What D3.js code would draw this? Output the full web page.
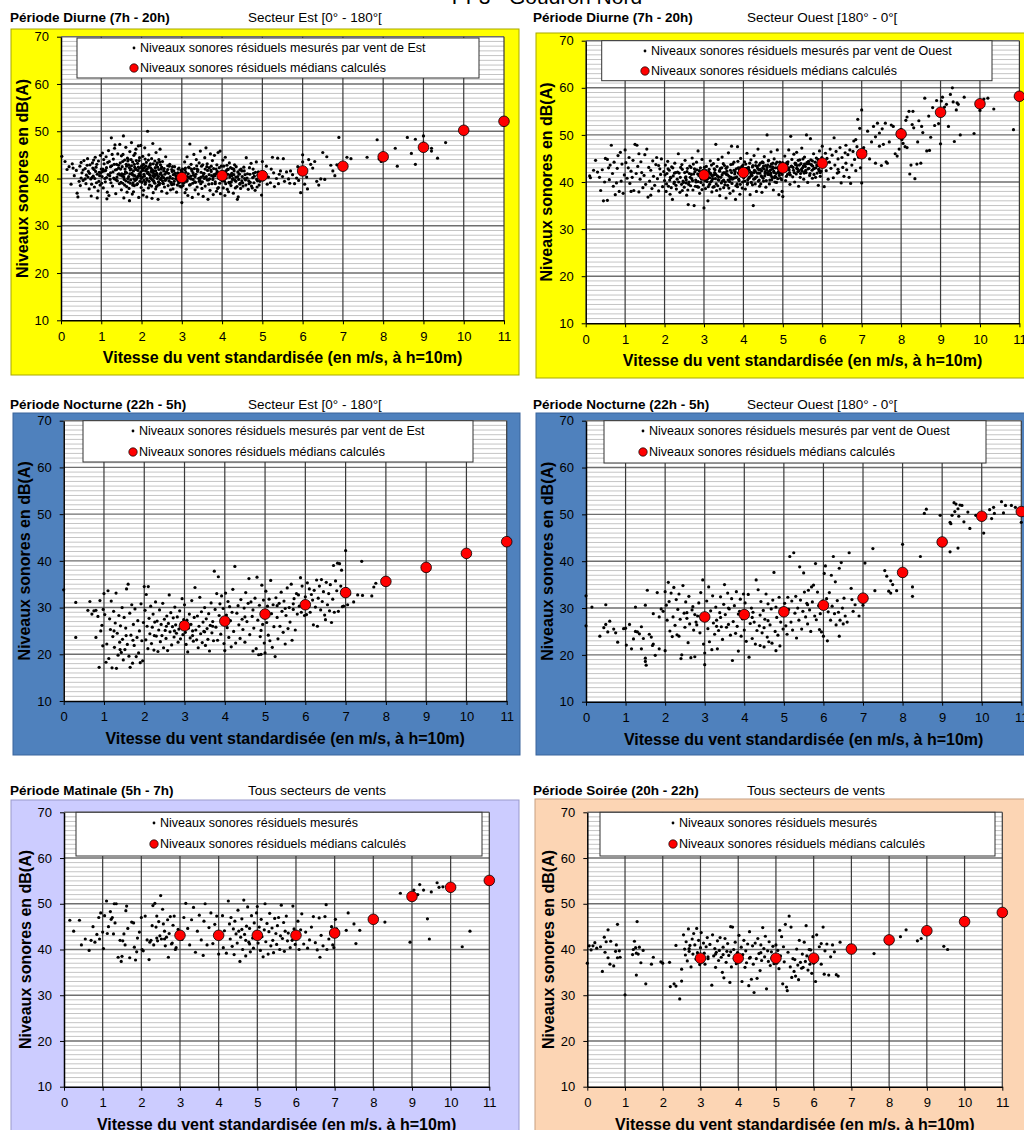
<!DOCTYPE html>
<html>
<head>
<meta charset="utf-8">
<script src="https://cdn.jsdelivr.net/npm/d3@7"></script>
<style>
body{margin:0;background:#fff;}
svg{display:block;font-family:"Liberation Sans",Arial,sans-serif;}
</style>
</head>
<body>
<svg id="chart" width="1024" height="1130"></svg>
<script>
var xTicks = [0,1,2,3,4,5,6,7,8,9,10,11];
var yTicks = [10,20,30,40,50,60,70];
var medianSpeeds = [3,4,5,6,7,8,9,10,11];

// medians
var medDiurneEst    = [40.2,40.6,40.6,41.6,42.6,44.6,46.6,50.2,52.1];
var medDiurneOuest  = [41.5,42.0,43.0,44.0,46.0,50.2,54.8,56.6,58.2];
var medNuitEst      = [26.1,27.1,28.6,30.6,33.2,35.6,38.6,41.6,44.1];
var medNuitOuest    = [28.1,28.6,29.2,30.6,32.1,37.6,44.1,49.6,50.6];
var medMatin        = [43.1,43.1,43.1,43.1,43.6,46.6,51.6,53.6,55.1];
var medSoir         = [38.1,38.1,38.1,38.1,40.1,42.1,44.1,46.1,48.1];

// measured points "speed level, speed level, ..."
var ptsDiurneEst = "0.02 44.7, 0.1 43.6, 0.15 41.9, 0.2 42.5, 0.25 38.8, 0.28 43.1, 0.3 42.2, 0.33 40.6, 0.38 41.7, 0.4 36.9, 0.42 36.1, 0.45 39.4, 0.47 42.6, 0.5 40.1, 0.5 43.4, 0.48 38.5," +
 "0.52 41.2, 0.55 39.6, 0.57 43.8, 0.6 42.1, 0.62 38.9, 0.63 40.7, 0.66 44.2, 0.68 41.5, 0.7 37.8, 0.72 42.9, 0.74 39.9, 0.75 36.3, 0.78 43.3, 0.8 40.5, 0.82 41.9, 0.83 38.2, 0.85 44.5, 0.87 42.4, 0.88 39.1, 0.9 40.9, 0.92 37.4, 0.93 43.7, 0.95 41.3, 0.97 38.6, 0.98 44.9, 1.0 42.0, 0.65 42.8, 0.77 40.2, 0.9 35.9, 0.81 43.9," +
 "1.02 40.4, 1.03 45.4, 1.05 38.0, 1.07 43.1, 1.08 41.6, 1.1 39.3, 1.12 44.6, 1.13 42.3, 1.15 37.1, 1.17 40.8, 1.18 45.9, 1.2 43.6, 1.22 39.8, 1.23 41.2, 1.25 48.6, 1.26 42.7, 1.28 38.4, 1.3 44.1, 1.31 40.1, 1.33 46.4, 1.35 41.8, 1.36 36.8, 1.38 43.0, 1.4 39.5, 1.41 45.2, 1.43 42.2, 1.45 38.9, 1.46 47.2, 1.48 40.7, 1.5 44.8, 1.5 37.6, 1.14 35.7, 1.27 45.1, 1.34 47.1, 1.44 41.0, 1.06 44.0, 1.19 36.4, 1.39 40.3," +
 "1.52 42.5, 1.53 39.0, 1.55 49.0, 1.56 35.9, 1.58 43.9, 1.6 41.4, 1.61 46.6, 1.63 38.3, 1.65 44.3, 1.66 40.0, 1.68 42.9, 1.7 35.3, 1.71 45.7, 1.73 39.7, 1.75 47.6, 1.76 41.1, 1.78 43.5, 1.8 37.2, 1.81 44.9, 1.83 40.6, 1.85 42.1, 1.86 46.2, 1.88 38.7, 1.9 43.2, 1.91 41.7, 1.93 36.0, 1.95 44.4, 1.96 39.4, 1.98 47.0, 2.0 42.6, 1.62 43.0, 1.69 37.9, 1.74 42.0, 1.79 39.1, 1.84 45.3, 1.89 40.2, 1.94 41.0, 1.99 38.1, 1.57 40.9, 1.67 44.0, 1.77 36.7, 1.87 43.8, 1.97 40.5, 1.54 45.1, 1.64 37.1, 1.72 41.8, 1.82 38.5, 1.92 46.9," +
 "2.02 40.3, 2.03 44.7, 2.05 37.5, 2.07 42.3, 2.08 46.5, 2.1 39.2, 2.12 43.4, 2.13 36.1, 2.15 50.0, 2.16 41.3, 2.18 45.0, 2.2 38.6, 2.21 42.8, 2.23 40.0, 2.25 44.2, 2.26 35.8, 2.28 47.4, 2.3 41.6, 2.31 39.3, 2.33 43.7, 2.35 37.8, 2.36 45.5, 2.38 40.8, 2.4 42.4, 2.41 35.6, 2.43 44.0, 2.45 39.0, 2.46 46.2, 2.48 41.2, 2.5 37.3, 2.06 39.6, 2.11 41.8, 2.17 38.0, 2.22 43.1, 2.27 39.7, 2.32 41.0, 2.37 38.3, 2.42 40.4, 2.47 42.9, 2.09 44.1, 2.19 40.9, 2.29 37.0, 2.39 43.3, 2.49 40.1, 2.04 36.5, 2.14 42.0, 2.24 41.5, 2.34 40.6, 2.44 38.7," +
 "2.52 43.6, 2.55 40.2, 2.57 38.2, 2.6 44.6, 2.62 41.4, 2.63 36.9, 2.65 42.7, 2.68 39.5, 2.7 43.0, 2.72 37.6, 2.75 41.9, 2.77 40.0, 2.8 38.8, 2.82 42.5, 2.85 39.9, 2.87 37.1, 2.9 41.2, 2.92 39.1, 2.95 38.4, 2.97 40.7, 3.0 34.9, 2.58 40.9, 2.67 41.1, 2.73 39.2, 2.83 41.0, 2.93 42.2, 2.53 39.0, 2.78 37.8, 2.88 40.4, 2.98 41.7," +
 "3.02 42.0, 3.03 38.5, 3.05 40.6, 3.07 43.5, 3.08 37.0, 3.1 41.3, 3.12 39.4, 3.13 44.6, 3.15 36.4, 3.17 42.4, 3.18 40.1, 3.2 47.3, 3.21 38.7, 3.23 43.0, 3.25 41.6, 3.26 36.0, 3.28 39.8, 3.3 45.1, 3.31 42.1, 3.33 37.6, 3.35 40.9, 3.36 44.0, 3.38 38.2, 3.4 41.8, 3.41 36.7, 3.43 43.3, 3.45 39.6, 3.46 45.8, 3.48 40.3, 3.5 37.9, 3.06 39.2, 3.16 41.0, 3.27 39.0, 3.37 42.7, 3.47 38.9, 3.11 37.7, 3.22 40.5, 3.32 39.3, 3.42 40.0," +
 "3.52 42.9, 3.53 36.2, 3.55 41.1, 3.57 44.4, 3.58 38.4, 3.6 46.5, 3.61 40.4, 3.63 43.1, 3.65 35.6, 3.66 39.7, 3.68 42.3, 3.7 37.5, 3.71 45.2, 3.73 41.5, 3.75 38.9, 3.76 43.8, 3.78 36.6, 3.8 40.8, 3.81 44.9, 3.83 39.3, 3.85 42.0, 3.86 37.3, 3.88 41.2, 3.9 45.5, 3.91 38.1, 3.93 40.2, 3.95 45.8, 3.96 36.8, 3.98 42.6, 4.0 39.5, 3.56 40.0, 3.64 41.7, 3.74 40.6, 3.84 41.0, 3.94 39.0, 3.69 39.9, 3.79 42.1, 3.89 37.9," +
 "4.02 43.9, 4.03 38.0, 4.05 41.4, 4.07 36.4, 4.08 44.5, 4.1 40.1, 4.12 42.8, 4.13 37.7, 4.15 41.9, 4.17 39.2, 4.18 43.3, 4.2 40.7, 4.22 38.5, 4.25 42.1, 4.27 40.0, 4.28 36.9, 4.3 41.6, 4.32 39.6, 4.35 42.5, 4.37 38.3, 4.38 35.6, 4.4 36.1, 4.42 41.0, 4.45 39.0, 4.47 42.0, 4.5 40.4, 4.14 40.9, 4.24 41.1, 4.34 40.3, 4.44 38.8, 4.06 39.4, 4.16 37.2, 4.26 39.8," +
 "4.52 38.4, 4.55 41.6, 4.58 39.7, 4.6 44.4, 4.62 40.1, 4.65 37.7, 4.68 42.3, 4.7 39.2, 4.72 43.2, 4.75 38.0, 4.78 41.1, 4.8 40.5, 4.82 37.5, 4.85 43.5, 4.88 39.5, 4.9 41.4, 4.92 38.6, 4.95 40.8, 4.98 36.5, 5.0 43.6, 4.57 40.8, 4.67 38.9, 4.77 42.0, 4.87 38.2," +
 "5.02 39.7, 5.05 41.3, 5.1 42.6, 5.12 38.8, 5.15 40.3, 5.2 39.1, 5.25 44.5, 5.28 41.2, 5.3 38.3, 5.35 40.0, 5.38 44.3, 5.4 38.9, 5.45 41.6, 5.5 40.4, 5.52 44.2, 5.55 39.4, 5.6 41.4, 5.65 39.9, 5.7 41.6, 5.75 40.8, 5.8 38.9, 5.85 40.1, 5.9 39.6, 5.95 37.0, 6.0 43.5, 6.0 45.0, 5.22 42.0, 5.42 40.9, 5.68 39.0, 5.88 42.5," +
 "6.05 38.8, 6.1 40.3, 6.15 44.0, 6.2 43.0, 6.3 43.6, 6.35 39.4, 6.4 38.6, 6.45 39.9, 6.5 45.5, 6.55 39.8, 6.6 44.6, 6.7 42.8, 6.75 41.6, 6.8 40.6, 6.85 42.9, 6.9 48.7, 6.95 42.9, 7.1 44.5, 7.2 44.2, 7.6 44.5, 7.85 48.2, 7.9 44.1, 7.95 43.6, 8.3 46.4, 8.35 42.6, 8.6 48.7, 8.7 45.3, 8.8 48.3, 8.8 43.0, 9.0 49.0, 9.0 47.5, 9.2 46.4, 9.2 45.8, 9.35 44.3, 9.55 47.6, 6.25 42.2, 6.12 37.8," +
 "0.55 41.8, 0.6 39.9, 0.67 40.3, 0.71 41.1, 0.76 38.8, 0.79 42.2, 0.84 40.0, 0.86 41.5, 0.89 43.0, 0.94 39.4, 0.96 40.6, 0.99 41.2, 1.01 39.0, 1.04 42.0, 1.09 40.0, 1.11 41.7, 1.16 43.4, 1.21 40.6, 1.24 39.1, 1.29 41.4, 1.32 43.0, 1.37 39.7, 1.42 40.9, 1.47 43.3, 1.49 39.2, 1.51 41.0, 1.53 43.6, 1.56 40.3, 1.59 42.0, 1.61 39.5, 1.63 41.2, 1.66 43.7, 1.68 40.4, 1.7 42.3, 1.72 39.0, 1.74 44.0, 1.76 40.9, 1.78 38.6, 1.8 41.6, 1.82 43.0, 1.84 39.6, 1.86 41.9, 1.88 40.1, 1.9 38.9, 1.92 42.4, 1.94 43.8, 1.96 40.8, 1.98 41.4," +
 "2.01 39.2, 2.03 41.7, 2.05 43.0, 2.07 40.5, 2.09 38.8, 2.11 42.6, 2.13 40.0, 2.15 41.1, 2.17 43.9, 2.19 39.4, 2.21 40.7, 2.23 42.2, 2.25 38.4, 2.27 41.3, 2.29 43.1, 2.31 40.3, 2.33 39.0, 2.35 41.6, 2.37 42.9, 2.39 40.0, 2.41 38.6, 2.43 41.9, 2.45 43.5, 2.47 39.8, 2.49 42.0, 2.51 40.6, 2.54 38.9, 2.56 42.1, 2.59 39.6, 2.61 41.3, 2.64 40.1, 2.66 38.5, 2.69 42.6, 2.71 40.4, 2.74 39.0, 2.76 41.5, 2.79 40.8, 2.81 39.4, 2.84 41.1, 2.86 40.0, 2.89 38.6, 2.91 42.0, 2.94 40.5, 2.96 39.3, 2.99 38.2," +
 "3.01 41.4, 3.04 39.0, 3.09 42.2, 3.14 40.4, 3.19 38.6, 3.24 42.0, 3.29 40.7, 3.34 39.2, 3.39 41.5, 3.44 40.1, 3.49 42.6, 3.51 39.3, 3.54 41.0, 3.59 40.2, 3.62 42.5, 3.67 38.8, 3.72 41.8, 3.77 39.8, 3.82 40.6, 3.87 42.9, 3.92 40.0, 3.97 41.3, 4.01 40.6, 4.04 42.6, 4.09 38.9, 4.11 41.7, 4.19 40.3, 4.21 42.3, 4.23 39.3, 4.29 40.8, 4.31 42.9, 4.33 38.0, 4.39 41.4, 4.41 39.8, 4.43 40.9, 4.46 37.9, 4.49 41.6, 4.51 39.1, 4.54 42.4, 4.56 40.0, 4.59 38.6, 4.63 41.0, 4.66 39.5, 4.69 40.9, 4.73 38.4, 4.76 40.2, 4.79 39.1, 4.83 41.3, 4.86 39.8, 4.89 40.7, 4.94 39.4," +
 "1.03 41.5, 1.13 40.2, 1.23 42.5, 1.33 39.9, 1.43 42.8, 1.53 40.5, 1.58 38.6, 1.63 42.6, 1.67 39.3, 1.71 41.0, 1.75 42.7, 1.79 40.7, 1.83 42.4, 1.87 39.8, 1.91 40.5, 1.95 42.2, 1.99 40.0, 2.02 42.1, 2.06 40.9, 2.1 41.6, 2.14 39.7, 2.18 42.4, 2.22 40.2, 2.26 41.9, 2.3 39.5, 2.34 42.3, 2.38 41.1, 2.42 39.3, 2.46 40.9, 2.5 42.4, 2.55 41.6, 2.6 39.8, 2.65 41.9, 2.7 40.1, 2.75 38.7, 2.8 41.6, 2.85 40.6, 2.9 39.6, 2.95 41.0," +
 "3.03 40.2, 3.08 41.8, 3.13 39.6, 3.18 42.3, 3.23 39.9, 3.28 41.2, 3.33 40.4, 3.38 42.0, 3.43 39.4, 3.48 41.3, 3.53 40.5, 3.58 42.0, 3.63 39.7, 3.68 40.8, 3.73 42.6, 3.78 40.4, 3.83 38.9, 3.88 41.5, 3.93 42.3, 3.98 40.3, 4.04 39.6, 4.09 41.2, 4.14 42.0, 4.19 39.0, 4.24 40.6, 4.29 42.0, 4.34 39.4, 4.39 40.4, 4.44 41.8, 4.49 39.5, 1.38 41.9, 1.48 42.0, 1.57 39.8, 1.81 39.9, 2.04 42.9, 2.28 40.6, 2.52 39.5, 2.77 42.5, 3.0 41.2";

var ptsDiurneOuest = "0.1 41.3, 0.12 40.9, 0.25 44.6, 0.3 42.1, 0.38 38.2, 0.42 42.6, 0.45 36.0, 0.5 45.0, 0.55 36.1, 0.55 44.8, 0.6 40.5, 0.62 43.6, 0.65 47.8, 0.68 41.8, 0.7 39.1, 0.72 44.2, 0.75 37.3, 0.8 42.9, 0.82 45.6, 0.85 38.0, 0.88 46.3, 0.9 40.2, 0.92 43.8, 0.95 37.6, 0.98 41.5, 0.78 39.8, 0.58 43.0, 0.48 40.0, 0.35 41.0, 0.2 42.5," +
 "1.0 46.8, 1.02 44.1, 1.05 40.8, 1.08 43.0, 1.1 45.2, 1.12 39.7, 1.15 42.3, 1.18 41.0, 1.2 44.6, 1.22 38.2, 1.25 48.0, 1.28 41.8, 1.3 47.8, 1.32 43.3, 1.35 37.9, 1.38 40.6, 1.4 44.3, 1.42 42.0, 1.45 38.8, 1.48 41.4, 1.5 45.8, 1.52 39.5, 1.55 47.0, 1.58 36.8, 1.6 43.1, 1.62 40.2, 1.65 42.5, 1.68 38.6, 1.7 44.5, 1.72 41.2, 1.75 39.3, 1.78 43.7, 1.8 45.2, 1.82 40.7, 1.85 38.1, 1.88 42.8, 1.9 41.6, 1.92 44.9, 1.95 39.0, 1.98 42.2, 1.15 38.0, 1.35 46.0, 1.65 37.2, 1.85 43.5," +
 "2.0 40.3, 2.02 43.6, 2.04 38.0, 2.06 41.8, 2.08 44.4, 2.1 39.1, 2.12 42.5, 2.14 37.4, 2.16 40.9, 2.18 43.2, 2.2 36.3, 2.22 41.3, 2.24 39.7, 2.26 44.0, 2.28 42.0, 2.3 38.5, 2.32 40.6, 2.35 46.0, 2.37 41.9, 2.39 37.8, 2.41 43.1, 2.43 39.5, 2.45 42.7, 2.47 40.2, 2.5 38.9, 2.52 44.6, 2.54 41.1, 2.56 37.2, 2.58 42.9, 2.6 35.2, 2.62 40.0, 2.64 43.4, 2.66 39.2, 2.68 41.6, 2.7 45.1, 2.72 38.3, 2.75 35.0, 2.77 42.2, 2.79 40.4, 2.81 44.2, 2.83 39.0, 2.85 46.6, 2.87 41.4, 2.89 37.6, 2.91 43.0, 2.93 40.8, 2.95 38.4, 2.97 42.4, 3.0 34.5, 2.25 40.0, 2.45 38.2, 2.65 41.0, 2.85 40.1, 2.15 41.0, 2.55 39.8, 2.73 43.8, 2.95 44.8," +
 "3.02 41.0, 3.04 38.6, 3.06 43.3, 3.08 40.1, 3.1 36.0, 3.12 42.2, 3.14 39.5, 3.16 44.5, 3.18 41.6, 3.2 37.9, 3.22 40.7, 3.24 43.9, 3.26 39.0, 3.28 42.6, 3.3 48.0, 3.32 38.2, 3.34 41.3, 3.36 44.8, 3.38 40.4, 3.4 37.1, 3.42 42.9, 3.44 39.8, 3.46 45.3, 3.48 41.9, 3.5 38.8, 3.52 43.5, 3.54 40.0, 3.56 36.6, 3.58 42.3, 3.6 39.3, 3.62 46.2, 3.64 41.2, 3.66 37.6, 3.68 43.7, 3.7 47.6, 3.72 40.6, 3.74 38.1, 3.76 44.2, 3.78 41.7, 3.8 36.3, 3.82 42.8, 3.84 39.6, 3.85 47.5, 3.87 43.0, 3.89 40.3, 3.91 37.4, 3.93 45.0, 3.95 41.5, 3.97 38.7, 3.99 43.6, 3.15 40.9, 3.35 39.2, 3.55 41.8, 3.75 40.8, 3.95 42.1, 3.25 41.5, 3.45 43.0, 3.65 40.1, 3.85 39.0," +
 "4.01 40.9, 4.03 44.3, 4.05 38.5, 4.07 42.4, 4.09 46.1, 4.11 39.8, 4.13 43.1, 4.15 41.0, 4.17 37.3, 4.19 44.7, 4.21 42.0, 4.23 39.4, 4.25 35.0, 4.27 45.6, 4.29 40.7, 4.31 43.5, 4.33 38.0, 4.35 41.9, 4.37 47.0, 4.39 42.6, 4.41 39.1, 4.43 44.0, 4.45 41.3, 4.47 37.8, 4.49 43.0, 4.51 40.2, 4.53 45.4, 4.55 42.2, 4.57 38.9, 4.6 50.0, 4.62 41.6, 4.64 44.6, 4.66 39.6, 4.68 43.3, 4.7 46.4, 4.72 40.5, 4.74 42.8, 4.76 38.3, 4.78 44.9, 4.8 41.2, 4.82 43.8, 4.84 39.9, 4.86 46.8, 4.88 42.1, 4.9 37.3, 4.92 44.2, 4.94 40.8, 4.96 43.4, 4.98 38.0, 5.0 36.9, 4.2 41.6, 4.4 40.4, 4.6 43.1, 4.8 40.0, 4.3 42.3, 4.5 44.1, 4.7 41.9, 4.9 42.6," +
 "5.02 42.7, 5.05 45.5, 5.07 40.3, 5.1 44.1, 5.12 41.6, 5.15 46.8, 5.18 39.5, 5.2 49.7, 5.22 43.4, 5.25 41.1, 5.28 45.9, 5.3 40.0, 5.33 43.9, 5.35 46.3, 5.38 42.2, 5.4 39.1, 5.43 44.7, 5.45 41.8, 5.48 47.2, 5.5 43.0, 5.53 40.6, 5.55 45.3, 5.58 42.5, 5.6 50.0, 5.63 39.9, 5.65 44.4, 5.68 41.4, 5.7 49.2, 5.72 43.7, 5.75 40.8, 5.78 46.0, 5.8 42.9, 5.83 41.0, 5.85 45.1, 5.88 43.5, 5.9 39.3, 5.93 46.6, 5.95 42.0, 5.98 44.3, 6.0 47.6, 5.15 43.0, 5.35 42.9, 5.55 43.8, 5.75 44.5, 5.95 41.2," +
 "6.02 43.9, 6.05 39.0, 6.08 46.1, 6.1 42.4, 6.12 45.0, 6.15 40.6, 6.18 44.2, 6.2 47.0, 6.22 42.9, 6.25 45.7, 6.28 40.9, 6.3 49.4, 6.32 43.6, 6.35 46.5, 6.38 41.9, 6.4 44.9, 6.42 42.1, 6.45 47.3, 6.48 39.8, 6.5 45.2, 6.52 43.1, 6.55 41.2, 6.58 46.2, 6.6 44.0, 6.62 42.6, 6.65 45.8, 6.68 41.0, 6.7 46.8, 6.72 39.7, 6.75 43.6, 6.78 46.5, 6.8 48.7, 6.82 44.8, 6.85 42.4, 6.88 47.5, 6.9 53.3, 6.92 45.3, 6.95 51.4, 6.97 43.0, 7.0 55.3, 7.0 39.8, 6.4 42.7, 6.6 47.8, 6.85 49.0," +
 "7.05 47.3, 7.1 46.5, 7.15 50.8, 7.2 44.9, 7.25 48.5, 7.3 51.8, 7.35 44.0, 7.4 52.5, 7.45 50.4, 7.45 47.6, 7.5 43.5, 7.55 48.0, 7.6 52.5, 7.62 44.3, 7.65 44.0, 7.7 48.5, 7.75 52.1, 7.8 51.8, 7.85 46.0, 7.9 45.5, 7.95 47.0, 8.0 51.2, 8.02 49.0, 8.05 48.2, 8.1 47.5, 8.12 53.1, 8.15 53.8, 8.2 55.0, 8.22 41.7, 8.25 43.6, 8.28 52.2, 8.3 55.0, 8.32 51.5, 8.35 40.7, 8.4 43.8, 8.45 53.0, 8.5 44.0, 8.52 51.8, 8.55 50.5, 8.6 57.8, 8.65 46.6, 8.7 54.0, 8.72 46.7, 8.75 49.5, 8.8 55.8, 8.85 52.0, 8.9 57.3, 8.95 52.4, 9.0 48.1, 9.02 57.2, 9.05 58.0, 9.1 55.9, 9.15 56.5, 9.2 51.8, 9.25 58.6, 9.3 60.0, 9.32 57.0, 9.35 48.6, 9.4 55.3, 9.42 56.8, 9.45 56.5, 9.5 50.0, 9.6 58.0, 9.85 50.3, 10.0 55.2, 10.05 56.8, 10.1 57.6, 10.2 57.8, 10.35 55.5, 10.85 51.1, 8.42 48.5, 7.35 49.6, 7.52 51.3, 8.15 47.3," +
 "2.01 41.5, 2.05 39.6, 2.09 42.8, 2.13 40.4, 2.17 38.8, 2.21 43.0, 2.25 41.9, 2.29 39.3, 2.33 42.1, 2.36 40.0, 2.4 41.0, 2.44 43.7, 2.48 39.9, 2.51 42.0, 2.55 40.5, 2.59 38.3, 2.63 41.8, 2.67 43.1, 2.71 40.3, 2.74 41.7, 2.78 39.1, 2.82 42.6, 2.86 38.9, 2.9 41.5, 2.94 40.6, 2.98 39.4," +
 "3.01 43.1, 3.03 40.3, 3.07 41.8, 3.11 39.0, 3.13 42.7, 3.17 40.0, 3.19 43.6, 3.21 41.3, 3.23 38.9, 3.27 42.0, 3.29 40.7, 3.31 39.6, 3.33 43.3, 3.37 41.1, 3.39 42.4, 3.41 38.5, 3.43 41.0, 3.47 40.2, 3.49 43.9, 3.51 42.0, 3.53 39.4, 3.57 41.6, 3.59 43.2, 3.61 40.4, 3.63 38.7, 3.67 42.5, 3.69 41.0, 3.71 39.7, 3.73 43.8, 3.77 40.9, 3.79 42.2, 3.81 39.2, 3.83 41.1, 3.86 44.4, 3.88 40.6, 3.9 42.6, 3.92 39.5, 3.94 41.7, 3.96 43.3, 3.98 40.0," +
 "4.02 42.2, 4.04 40.2, 4.06 43.8, 4.08 41.5, 4.1 39.5, 4.12 42.9, 4.14 40.8, 4.16 44.0, 4.18 42.0, 4.2 39.9, 4.22 41.4, 4.24 43.5, 4.26 40.6, 4.28 42.5, 4.3 39.6, 4.32 44.2, 4.34 41.1, 4.36 42.9, 4.38 40.2, 4.4 43.6, 4.42 41.9, 4.44 39.6, 4.46 42.4, 4.48 44.3, 4.5 40.8, 4.52 42.8, 4.54 41.3, 4.56 43.5, 4.58 40.3, 4.61 42.0, 4.63 44.5, 4.65 41.6, 4.67 40.4, 4.69 42.6, 4.71 43.8, 4.73 41.0, 4.75 44.0, 4.77 42.3, 4.79 40.9, 4.81 43.0, 4.83 41.8, 4.85 44.2, 4.87 40.7, 4.89 42.9, 4.91 41.4, 4.93 43.6, 4.95 42.0, 4.97 40.5, 4.99 44.1," +
 "5.03 42.3, 5.06 43.8, 5.09 41.2, 5.13 44.3, 5.16 42.6, 5.19 41.5, 5.23 44.8, 5.26 43.1, 5.29 42.0, 5.31 44.0, 5.34 41.7, 5.36 43.5, 5.39 44.6, 5.41 42.4, 5.44 41.0, 5.46 43.9, 5.49 42.3, 5.51 44.9, 5.54 41.9, 5.57 43.3, 5.59 42.0, 5.61 44.1, 5.64 42.8, 5.67 43.9, 5.69 41.8, 5.71 44.7, 5.74 42.5, 5.76 43.4, 5.79 41.6, 5.82 44.2, 5.84 43.0, 5.87 41.9, 5.89 44.8, 5.91 42.7, 5.94 43.7, 5.97 42.3, 5.99 45.2," +
 "2.53 40.9, 2.57 42.2, 2.61 39.5, 2.69 40.7, 2.76 42.8, 2.8 40.0, 2.84 41.7, 2.88 42.4, 2.92 39.9, 2.96 41.9, 3.05 42.4, 3.09 40.7, 3.16 41.9, 3.2 40.3, 3.26 42.8, 3.3 41.6, 3.36 40.5, 3.4 42.3, 3.46 41.5, 3.5 40.4, 3.56 42.9, 3.6 41.5, 3.66 40.6, 3.7 42.0, 3.76 42.5, 3.8 40.9, 3.87 41.9, 3.91 43.0, 3.97 41.5," +
 "4.03 41.2, 4.07 42.9, 4.11 40.5, 4.15 42.5, 4.19 41.3, 4.23 43.2, 4.27 42.0, 4.31 41.0, 4.35 43.3, 4.39 41.9, 4.43 42.7, 4.47 41.1, 4.51 43.4, 4.55 41.8, 4.59 42.6, 4.62 43.6, 4.66 42.3, 4.7 41.4, 4.74 43.2, 4.78 42.0, 4.82 41.1, 4.86 43.0, 4.9 41.9, 4.94 42.8, 4.98 41.6, 5.04 43.2, 5.08 42.4, 5.12 43.8, 5.17 42.0, 5.21 43.3, 5.27 42.5, 5.32 43.7, 5.37 42.8, 5.42 43.6, 5.47 42.7, 5.52 43.4, 5.56 42.1, 5.62 43.9, 5.66 42.9, 5.73 43.6, 5.78 42.8, 5.86 43.6, 5.92 42.4";

var ptsNuitEst = "0.0 33.8, 0.3 31.1, 0.3 23.6, 0.6 29.4, 0.65 31.3, 0.7 28.6, 0.75 29.3, 0.8 29.4, 0.8 23.6, 0.85 28.1, 0.88 17.2, 0.9 31.5, 0.92 25.0, 0.95 26.2, 0.97 21.8, 1.0 33.0, 0.98 29.6," +
 "1.02 28.5, 1.05 18.3, 1.07 22.2, 1.1 33.6, 1.12 19.1, 1.14 27.6, 1.16 25.3, 1.18 31.4, 1.2 17.1, 1.22 23.8, 1.24 29.2, 1.26 21.5, 1.28 26.7, 1.3 33.1, 1.31 17.0, 1.33 24.5, 1.35 19.8, 1.37 28.3, 1.39 22.6, 1.41 26.1, 1.43 20.4, 1.45 30.0, 1.46 23.2, 1.48 18.8, 1.5 27.9, 1.52 21.0, 1.54 25.6, 1.56 34.0, 1.58 22.1, 1.6 35.0, 1.62 19.6, 1.64 28.8, 1.65 17.2, 1.67 24.1, 1.69 30.6, 1.71 18.1, 1.73 26.4, 1.75 21.9, 1.77 29.7, 1.8 19.5, 1.82 23.6, 1.84 27.2, 1.86 20.3, 1.88 25.0, 1.9 18.2, 1.92 30.8, 1.94 22.9, 1.96 18.6, 1.98 26.8, 1.25 25.0, 1.55 24.0, 1.72 23.0, 1.4 21.0," +
 "2.0 34.5, 2.02 29.4, 2.04 23.1, 2.05 32.8, 2.07 26.0, 2.09 21.2, 2.1 34.5, 2.12 27.7, 2.14 24.4, 2.16 30.3, 2.18 22.3, 2.2 25.8, 2.22 28.6, 2.24 20.9, 2.26 26.9, 2.28 31.2, 2.3 23.9, 2.32 27.1, 2.34 20.6, 2.36 25.2, 2.38 29.5, 2.4 22.7, 2.42 26.4, 2.44 24.0, 2.46 30.9, 2.48 21.4, 2.5 27.5, 2.52 25.1, 2.54 23.4, 2.56 28.2, 2.58 20.8, 2.6 26.6, 2.62 32.7, 2.64 24.8, 2.66 28.9, 2.68 22.0, 2.7 25.9, 2.72 27.8, 2.74 23.7, 2.76 30.1, 2.78 26.3, 2.8 24.5, 2.82 28.0, 2.84 22.6, 2.86 25.4, 2.88 29.3, 2.9 23.3, 2.92 26.7, 2.94 31.9, 2.96 24.2, 2.98 27.4, 2.25 24.0, 2.55 26.0, 2.75 25.0," +
 "3.0 30.6, 3.02 24.7, 3.04 22.1, 3.06 27.3, 3.08 20.5, 3.1 25.6, 3.12 28.6, 3.14 23.5, 3.16 26.4, 3.18 31.5, 3.2 24.0, 3.22 22.8, 3.24 27.9, 3.26 34.3, 3.28 25.2, 3.3 23.1, 3.32 28.2, 3.34 21.4, 3.36 26.0, 3.38 32.2, 3.4 24.4, 3.42 29.1, 3.44 22.5, 3.46 26.9, 3.48 24.9, 3.5 30.0, 3.52 21.9, 3.54 27.6, 3.56 25.5, 3.58 23.2, 3.6 28.7, 3.62 20.7, 3.64 26.2, 3.66 31.0, 3.68 24.6, 3.7 27.0, 3.72 22.9, 3.74 37.8, 3.76 29.6, 3.78 25.8, 3.8 33.0, 3.82 23.0, 3.84 36.6, 3.86 28.3, 3.88 30.8, 3.9 24.3, 3.92 32.5, 3.94 26.5, 3.96 29.8, 3.98 22.3, 3.2 25.0, 3.5 24.8, 3.7 26.0," +
 "4.0 20.8, 4.02 33.1, 4.04 28.4, 4.06 25.7, 4.08 31.3, 4.1 23.6, 4.12 30.2, 4.14 27.2, 4.16 21.6, 4.18 29.0, 4.2 33.9, 4.22 24.9, 4.25 38.8, 4.27 22.4, 4.3 28.8, 4.33 30.4, 4.35 26.3, 4.38 23.4, 4.4 31.7, 4.43 27.5, 4.45 25.3, 4.48 29.9, 4.5 22.6, 4.52 33.2, 4.55 27.0, 4.58 30.9, 4.6 36.2, 4.62 24.2, 4.65 31.2, 4.68 28.1, 4.7 20.7, 4.72 25.6, 4.75 32.0, 4.78 21.2, 4.8 36.5, 4.82 27.3, 4.84 19.9, 4.86 30.5, 4.88 23.8, 4.9 20.0, 4.92 34.8, 4.94 26.4, 4.96 31.6, 4.98 22.4, 5.0 29.3, 4.5 28.0, 4.7 29.5, 4.9 25.1," +
 "5.0 20.3, 5.02 33.5, 5.04 26.8, 5.06 30.3, 5.08 24.1, 5.1 31.8, 5.12 22.9, 5.14 35.8, 5.16 28.7, 5.18 21.5, 5.2 30.6, 5.22 25.9, 5.25 19.5, 5.27 32.1, 5.3 27.9, 5.32 23.3, 5.35 30.9, 5.37 26.0, 5.4 33.3, 5.42 29.2, 5.45 24.7, 5.47 31.4, 5.5 22.2, 5.52 28.3, 5.55 34.2, 5.57 25.5, 5.6 30.0, 5.62 26.9, 5.65 35.0, 5.67 23.0, 5.7 29.6, 5.72 31.9, 5.75 25.2, 5.78 33.0, 5.8 28.6, 5.83 32.7, 5.85 30.3, 5.88 36.4, 5.9 29.0, 5.92 34.6, 5.95 31.2, 5.98 28.3, 5.3 30.4, 5.5 29.8, 5.7 30.8," +
 "6.0 32.3, 6.03 28.5, 6.05 35.3, 6.08 30.9, 6.1 34.0, 6.12 29.0, 6.15 32.8, 6.18 31.6, 6.2 26.3, 6.22 33.7, 6.25 30.1, 6.28 35.9, 6.3 26.0, 6.32 32.0, 6.35 34.6, 6.38 29.5, 6.4 36.0, 6.42 31.3, 6.45 33.4, 6.48 28.4, 6.5 27.4, 6.52 35.4, 6.55 30.6, 6.58 33.0, 6.6 29.3, 6.62 34.9, 6.65 26.8, 6.68 31.8, 6.7 39.0, 6.72 29.0, 6.75 35.7, 6.78 33.6, 6.8 39.5, 6.82 29.2, 6.85 39.4, 6.88 34.6, 6.9 38.0, 6.92 30.2, 6.95 30.3, 7.0 42.2, 7.02 34.0, 7.05 30.6, 7.1 32.9, 7.2 31.2, 7.3 32.7, 7.4 39.9, 7.42 32.6, 7.65 32.5, 7.7 34.4, 7.75 35.2";

var ptsNuitOuest = "0.0 32.6, 0.0 26.2, 0.15 30.2, 0.35 24.0, 0.45 25.8, 0.5 26.5, 0.5 30.7, 0.55 24.9, 0.6 27.2, 0.7 25.5, 0.75 24.7, 0.8 22.7, 0.95 25.6, 1.0 25.7, 1.02 22.1, 1.1 26.5, 1.15 21.3, 1.2 23.4, 1.25 30.2, 1.25 25.0, 1.3 24.9, 1.35 24.5, 1.4 21.3, 1.4 26.0, 1.45 23.5, 1.5 19.3, 1.5 18.6, 1.52 17.8, 1.5 30.6, 1.55 33.8, 1.65 23.8, 1.7 22.3, 1.7 28.8, 1.75 19.9, 1.8 33.3, 1.85 21.3, 1.85 28.1, 1.9 29.8, 1.95 29.3, 2.0 20.9, 1.6 24.4, 1.68 22.0," +
 "2.0 33.5, 2.03 30.6, 2.05 27.4, 2.08 35.5, 2.1 31.4, 2.12 25.1, 2.15 33.2, 2.18 23.9, 2.2 28.1, 2.22 34.4, 2.25 26.3, 2.28 31.8, 2.3 24.3, 2.32 29.7, 2.35 33.0, 2.38 27.6, 2.4 19.2, 2.42 20.0, 2.45 34.8, 2.48 28.9, 2.5 25.9, 2.52 31.3, 2.55 29.0, 2.58 22.6, 2.6 32.5, 2.62 26.6, 2.65 19.4, 2.68 29.6, 2.7 30.3, 2.72 25.3, 2.75 19.6, 2.78 27.0, 2.8 26.4, 2.82 28.3, 2.85 31.1, 2.88 24.7, 2.9 33.3, 2.92 27.6, 2.95 36.0, 2.97 22.3, 3.0 17.9, 3.0 20.4, 2.35 24.0, 2.55 27.8, 2.75 28.6," +
 "3.02 27.9, 3.05 31.5, 3.08 25.6, 3.1 34.5, 3.12 22.8, 3.15 29.4, 3.18 21.1, 3.2 32.6, 3.22 26.8, 3.25 24.4, 3.28 30.2, 3.3 27.4, 3.32 21.3, 3.35 25.2, 3.38 29.0, 3.4 32.4, 3.42 26.0, 3.45 23.3, 3.48 30.8, 3.5 35.0, 3.52 28.6, 3.55 25.9, 3.58 33.2, 3.6 26.5, 3.62 29.8, 3.65 24.2, 3.68 32.0, 3.7 18.8, 3.72 27.1, 3.75 30.5, 3.78 24.6, 3.8 33.5, 3.82 26.1, 3.85 20.8, 3.88 29.3, 3.9 31.9, 3.92 24.0, 3.95 27.7, 3.98 33.0, 3.4 28.0, 3.6 30.0, 3.85 28.7, 3.3 26.1," +
 "4.0 25.3, 4.02 31.1, 4.05 22.9, 4.08 28.5, 4.1 32.9, 4.12 19.5, 4.15 26.7, 4.18 30.0, 4.2 23.5, 4.22 29.1, 4.25 27.0, 4.28 22.3, 4.3 36.0, 4.32 25.2, 4.35 33.9, 4.38 26.2, 4.4 22.0, 4.42 31.4, 4.45 24.7, 4.48 29.5, 4.5 21.7, 4.52 27.6, 4.55 33.0, 4.58 23.8, 4.6 30.9, 4.62 22.8, 4.65 26.4, 4.68 29.8, 4.7 22.5, 4.72 31.7, 4.75 37.6, 4.78 25.0, 4.8 20.9, 4.82 28.0, 4.85 24.2, 4.88 32.3, 4.9 21.9, 4.92 27.0, 4.95 29.9, 4.98 25.5, 4.4 28.5, 4.6 27.3, 4.8 30.2, 4.2 28.0, 4.5 25.8," +
 "5.02 31.0, 5.05 26.2, 5.08 24.4, 5.1 32.3, 5.12 29.7, 5.15 41.0, 5.18 27.0, 5.2 31.5, 5.22 25.3, 5.25 41.8, 5.28 28.9, 5.3 32.5, 5.32 23.6, 5.35 30.0, 5.38 27.4, 5.4 38.8, 5.42 31.7, 5.45 25.5, 5.48 29.3, 5.5 37.5, 5.52 33.4, 5.55 28.1, 5.58 31.0, 5.6 26.6, 5.62 33.8, 5.65 29.6, 5.68 25.0, 5.7 34.5, 5.72 31.3, 5.75 34.9, 5.78 28.3, 5.8 39.5, 5.82 27.5, 5.85 33.4, 5.88 30.5, 5.9 25.4, 5.92 28.8, 5.95 24.9, 5.98 31.5, 5.6 30.7," +
 "6.0 24.0, 6.02 37.4, 6.05 39.0, 6.08 32.0, 6.1 23.0, 6.12 29.2, 6.15 33.3, 6.18 27.4, 6.2 37.0, 6.22 30.4, 6.25 41.0, 6.28 28.8, 6.3 35.6, 6.32 26.4, 6.35 31.6, 6.38 29.1, 6.4 38.5, 6.4 24.0, 6.42 27.4, 6.45 39.7, 6.48 30.0, 6.5 26.6, 6.52 32.1, 6.55 28.3, 6.6 27.0, 6.65 41.8, 6.7 34.2, 6.72 31.8, 6.75 29.3, 6.8 30.7, 6.9 28.3, 7.0 30.6, 7.05 39.6, 7.25 42.7, 7.3 33.7, 7.55 38.0, 7.6 36.8, 7.65 33.6, 7.7 33.2, 7.7 35.8, 7.75 35.0, 7.85 33.7, 7.95 37.2, 8.0 43.6, 8.25 34.5, 8.25 32.5," +
 "8.45 41.0, 8.55 50.2, 8.6 51.1, 8.95 49.8, 9.2 48.3, 9.2 42.0, 9.22 48.0, 9.25 49.8, 9.3 52.5, 9.32 50.6, 9.35 52.2, 9.4 51.2, 9.42 49.6, 9.45 52.0, 9.4 42.8, 9.5 51.9, 9.55 48.4, 9.65 50.5, 9.7 47.0, 9.85 49.8, 10.05 46.0, 10.2 51.0, 10.25 49.1, 10.3 51.5, 10.32 50.2, 10.5 52.7, 10.55 50.3, 10.6 51.9, 10.75 51.9, 10.85 51.5, 11.0 48.3";

var ptsMatin = "0.15 46.4, 0.25 44.0, 0.4 46.4, 0.45 41.0, 0.55 42.3, 0.65 39.8, 0.7 42.0, 0.75 45.0, 0.8 41.6, 0.85 43.3, 0.9 47.0, 0.92 42.3, 0.95 48.0, 1.0 43.8, 1.02 40.2, 1.05 47.4, 1.1 50.6, 1.12 43.5, 1.15 45.0, 1.2 48.3, 1.22 46.6, 1.25 47.0, 1.28 43.4, 1.3 50.0, 1.35 50.0, 1.32 45.8, 1.4 38.3, 1.45 42.0, 1.48 37.4, 1.5 38.5, 1.52 41.9, 1.55 43.4, 1.6 48.5, 1.62 49.5, 1.58 41.0, 1.65 44.6, 1.7 38.2, 1.75 46.0, 1.8 45.8, 1.82 40.5, 1.85 37.7, 1.88 39.5, 1.9 42.5, 1.95 43.8, 2.0 47.0, 2.02 40.0, 2.05 39.7, 2.1 47.3, 2.15 42.1, 2.2 37.8, 2.22 41.6, 2.25 42.0, 2.28 45.2, 2.3 49.6, 2.32 41.0, 2.35 50.1, 2.38 44.9, 2.4 47.3, 2.42 41.9, 2.45 46.1, 2.48 43.0, 2.5 51.8, 2.52 42.3, 2.55 48.8, 2.57 45.6, 2.6 44.0, 2.62 40.8, 2.65 42.7, 2.68 46.5, 2.7 38.3, 2.72 43.5, 2.75 47.2, 2.78 41.2, 2.8 41.4, 2.82 45.3, 2.85 47.3, 2.88 40.0, 2.9 40.4, 2.95 44.4, 2.4 42.5, 2.6 42.3," +
 "3.05 42.2, 3.1 47.0, 3.15 50.1, 3.2 44.6, 3.25 41.0, 3.3 46.5, 3.35 49.2, 3.4 39.4, 3.45 44.0, 3.5 47.5, 3.55 42.1, 3.6 38.7, 3.62 46.2, 3.65 50.0, 3.7 41.0, 3.75 44.8, 3.8 48.0, 3.85 41.3, 3.9 45.5, 3.95 47.3, 4.0 39.0, 4.05 42.8, 4.1 47.4, 4.12 40.4, 4.15 44.1, 4.2 39.2, 4.25 50.6, 4.28 45.6, 4.3 42.3, 4.32 47.0, 4.35 40.7, 4.38 44.5, 4.4 38.9, 4.42 46.2, 4.45 43.4, 4.48 41.4, 4.5 48.6, 4.52 44.0, 4.55 37.4, 4.57 42.7, 4.6 46.7, 4.62 40.0, 4.65 50.8, 4.67 43.3, 4.7 38.6, 4.72 45.1, 4.75 49.3, 4.78 41.6, 4.8 44.6, 4.82 39.5, 4.85 47.4, 4.88 42.5, 4.9 40.3, 4.92 45.8, 4.95 43.1, 4.98 48.0, 4.6 44.4, 4.7 42.0, 4.8 41.2," +
 "5.0 49.4, 5.02 41.4, 5.05 44.9, 5.08 39.8, 5.1 46.6, 5.12 42.8, 5.15 38.4, 5.18 44.3, 5.2 50.0, 5.22 41.7, 5.25 45.7, 5.28 39.0, 5.3 43.9, 5.32 47.9, 5.35 40.8, 5.38 44.7, 5.4 42.0, 5.42 39.3, 5.45 46.8, 5.48 43.5, 5.5 41.1, 5.52 45.2, 5.55 47.0, 5.58 40.0, 5.6 43.0, 5.62 49.7, 5.65 42.4, 5.68 45.9, 5.7 39.6, 5.72 44.0, 5.75 47.3, 5.78 41.9, 5.8 43.6, 5.85 40.4, 5.9 42.0, 5.92 49.5, 5.95 44.5, 5.98 41.1, 6.02 42.7, 6.05 46.2, 6.08 40.0, 6.12 44.3, 6.15 47.8, 6.2 41.2, 6.25 43.8, 6.3 40.3, 6.35 42.1, 6.4 44.9, 6.45 47.2, 6.5 41.5, 6.55 39.9, 6.6 46.9, 6.62 38.3, 6.65 43.1, 6.7 40.8, 6.75 47.2, 6.78 49.8, 6.8 40.0, 6.85 42.3, 6.9 43.7, 6.92 45.0, 6.95 41.0, 6.98 40.4, 7.02 46.6, 7.05 44.5, 7.3 44.2, 7.35 48.0, 7.5 45.6, 7.55 41.3, 7.65 44.2," +
 "8.3 46.0, 8.7 52.3, 8.95 41.6, 9.05 53.0, 9.15 52.0, 9.2 54.2, 9.3 53.0, 9.4 46.7, 9.45 42.3, 9.5 52.6, 9.65 54.6, 9.7 53.6, 9.8 53.7, 10.3 40.6, 10.5 44.0";

var ptsSoir = "0.0 37.0, 0.05 40.8, 0.1 39.9, 0.15 40.8, 0.2 41.5, 0.25 40.3, 0.35 40.6, 0.4 35.2, 0.45 42.7, 0.47 39.4, 0.5 41.7, 0.55 44.3, 0.55 38.2, 0.6 36.8, 0.62 41.8, 0.7 36.4, 0.75 39.6, 0.77 41.0, 0.8 38.2, 0.8 45.5, 0.85 39.7, 0.87 38.3, 1.0 30.1, 1.2 38.9, 1.25 41.8, 1.28 40.4, 1.3 34.4, 1.32 46.1, 1.35 39.0, 1.38 40.5, 1.42 37.1, 1.48 39.8, 1.55 32.5, 1.7 36.8, 1.75 38.3, 1.95 37.3, 2.0 37.0, 2.18 37.2, 2.2 31.9, 2.3 32.5, 2.35 32.0, 2.35 40.9, 2.45 29.2, 2.5 33.1, 2.5 35.7, 1.22 40.0, 1.3 39.2," +
 "2.55 43.2, 2.58 40.1, 2.6 38.8, 2.62 41.7, 2.65 37.5, 2.68 44.5, 2.7 39.6, 2.72 40.9, 2.75 36.2, 2.78 42.3, 2.8 39.0, 2.82 43.5, 2.85 41.0, 2.88 37.9, 2.9 44.6, 2.92 39.3, 2.95 42.0, 2.98 36.7, 3.0 40.4, 3.02 43.7, 3.05 37.3, 3.08 41.4, 3.1 39.2, 3.12 36.8, 3.15 40.6, 3.18 42.6, 3.2 38.0, 3.25 41.1, 3.3 32.2, 3.32 43.2, 3.35 38.6, 3.38 40.2, 3.4 36.1, 3.42 39.4, 3.45 41.9, 3.48 37.6, 3.5 39.8, 3.52 42.6, 3.55 38.3, 3.58 35.0, 3.6 40.5, 3.62 33.8, 3.65 42.4, 3.68 37.2, 3.7 39.6, 3.72 41.3, 3.75 38.7, 3.78 32.8, 3.8 45.0, 3.82 36.2, 3.85 44.9, 3.88 40.0, 3.9 38.1, 3.92 41.6, 3.95 36.9, 3.98 39.3, 2.7 40.2, 3.0 37.2, 3.2 38.4, 3.4 39.0, 3.6 38.9, 3.8 39.5," +
 "4.02 43.1, 4.05 37.6, 4.08 40.5, 4.1 33.0, 4.12 38.9, 4.15 42.0, 4.18 36.1, 4.2 39.7, 4.22 37.1, 4.25 41.2, 4.28 32.1, 4.3 43.9, 4.32 38.3, 4.35 33.5, 4.38 40.8, 4.4 36.8, 4.42 30.6, 4.45 41.4, 4.48 38.0, 4.5 33.7, 4.52 42.4, 4.55 39.1, 4.58 35.4, 4.6 41.0, 4.62 37.6, 4.65 44.8, 4.68 40.2, 4.7 38.4, 4.72 42.9, 4.75 31.4, 4.78 39.7, 4.8 37.4, 4.82 41.7, 4.85 36.5, 4.88 39.5, 4.9 38.2, 4.92 40.7, 4.95 36.9, 4.98 38.7, 5.0 41.0, 5.02 37.0, 5.05 39.8, 5.08 35.8, 5.1 44.2, 5.12 38.6, 5.15 42.8, 5.18 32.5, 5.2 40.6, 5.22 37.3, 5.25 45.5, 5.28 31.8, 5.3 31.0, 5.32 39.4, 5.35 47.3, 5.38 36.2, 5.4 44.9, 5.42 33.9, 5.45 38.0, 5.48 35.2, 4.3 38.1, 4.6 39.3, 4.9 37.9," +
 "5.5 37.8, 5.52 34.2, 5.55 40.1, 5.58 36.6, 5.6 33.4, 5.62 42.0, 5.65 37.2, 5.68 35.9, 5.7 39.0, 5.72 36.1, 5.75 41.6, 5.78 37.4, 5.8 45.2, 5.82 38.6, 5.85 35.5, 5.88 40.0, 5.9 36.8, 5.92 39.9, 5.95 34.8, 5.98 42.8, 6.0 37.0, 6.05 33.0, 6.08 43.2, 6.1 38.2, 6.15 40.6, 6.2 36.8, 6.25 44.9, 6.28 34.6, 6.3 39.7, 6.35 41.2, 6.4 34.4, 6.45 38.4, 6.5 41.0, 6.55 39.5, 6.6 34.5, 6.65 34.2, 6.7 41.6, 6.2 41.3, 6.95 40.9, 7.6 39.1, 8.05 41.8, 8.3 42.8, 8.45 44.3, 8.75 41.9, 8.85 42.4, 9.45 40.7, 9.55 40.0";

var legendMesEst   = "Niveaux sonores résiduels mesurés par vent de Est";
var legendMesOuest = "Niveaux sonores résiduels mesurés par vent de Ouest";
var legendMesTous  = "Niveaux sonores résiduels mesurés";
var legendMed      = "Niveaux sonores résiduels médians calculés";

function parsePts(s){
	return s.split(',').map(function(p){
		var a = p.trim().split(/\s+/);
		return [+a[0], +a[1]];
	});
}

// layout of the six panels (box = coloured frame, plot = x0,x1,y0,y1, leg = x0,y0,x1,y1,dotX,line1Y,line2Y)
var panels = [
	{period:'Période Diurne (7h - 20h)', sector:'Secteur Est [0° - 180°[', mes:legendMesEst, pts:ptsDiurneEst, med:medDiurneEst,
	 fill:'#ffff00', border:'#a8a800', box:[11,29,508,346], plot:[61,504,36.7,320.3], head:[10,248,22], leg:[77,38,479,78,134,48,68]},
	{period:'Période Diurne (7h - 20h)', sector:'Secteur Ouest [180° - 0°[', mes:legendMesOuest, pts:ptsDiurneOuest, med:medDiurneOuest,
	 fill:'#ffff00', border:'#a8a800', box:[536,33,500,345], plot:[585.7,1019.4,40.7,323.3], head:[533,747,22], leg:[601.7,40.7,992,80.7,645,51,71]},
	{period:'Période Nocturne (22h - 5h)', sector:'Secteur Est [0° - 180°[', mes:legendMesEst, pts:ptsNuitEst, med:medNuitEst,
	 fill:'#4f81bd', border:'#3a659c', box:[13,413,507,342], plot:[63.7,506.7,420.7,701], head:[10,248,409], leg:[83,420.7,473,462,133,431,452]},
	{period:'Période Nocturne (22h - 5h)', sector:'Secteur Ouest [180° - 0°[', mes:legendMesOuest, pts:ptsNuitOuest, med:medNuitOuest,
	 fill:'#4f81bd', border:'#3a659c', box:[536,413,500,342], plot:[586,1021.3,420.7,701.7], head:[533,747,409], leg:[604,420.7,986,463,643,431,452]},
	{period:'Période Matinale (5h - 7h)', sector:'Tous secteurs de vents', mes:legendMesTous, pts:ptsMatin, med:medMatin,
	 fill:'#ccccff', border:'#9999cc', box:[11,800,508,340], plot:[64,489.3,812.3,1086.7], head:[10,248,795], leg:[76,812.3,482,856,154,823,844]},
	{period:'Période Soirée (20h - 22h)', sector:'Tous secteurs de vents', mes:legendMesTous, pts:ptsSoir, med:medSoir,
	 fill:'#fcd5b4', border:'#c8a080', box:[535,799,500,340], plot:[587.3,1002.3,812.3,1086.7], head:[533,747,795], leg:[600,812.3,995,856,673,823,844]}
];

var svg = d3.select('#chart');

//page title, partly cut off at the top
svg.append('text')
	.attr('x',547).attr('y',4)
	.attr('text-anchor','middle')
	.style('font-size','21px')
	.text('PF3 - Goudron Nord');

panels.forEach(function(p){
	var g = svg.append('g');
	var x = d3.scaleLinear().domain([0,11]).range([p.plot[0],p.plot[1]]);
	var y = d3.scaleLinear().domain([10,70]).range([p.plot[3],p.plot[2]]);

	//headers
	g.append('text').attr('x',p.head[0]).attr('y',p.head[2])
		.style('font-size','13.5px').style('font-weight','bold').text(p.period);
	g.append('text').attr('x',p.head[1]).attr('y',p.head[2])
		.style('font-size','13.5px').text(p.sector);

	//coloured frame
	g.append('rect')
		.attr('x',p.box[0]).attr('y',p.box[1]).attr('width',p.box[2]).attr('height',p.box[3])
		.attr('fill',p.fill).attr('stroke',p.border).attr('stroke-width',1);

	//plot area
	g.append('rect')
		.attr('x',x(0)).attr('y',y(70)).attr('width',x(11)-x(0)).attr('height',y(10)-y(70))
		.attr('fill','#fff');

	//minor horizontal grid every 1 dB
	var minor = d3.range(11,70).filter(function(v){ return v % 10 !== 0; });
	g.selectAll('line.minor').data(minor).enter().append('line')
		.attr('x1',x(0)).attr('x2',x(11))
		.attr('y1',function(d){ return y(d); }).attr('y2',function(d){ return y(d); })
		.attr('stroke','#c4c4c4').attr('stroke-width',1);

	//major horizontal grid
	g.selectAll('line.major').data(yTicks.slice(1)).enter().append('line')
		.attr('x1',x(0)).attr('x2',x(11))
		.attr('y1',function(d){ return y(d); }).attr('y2',function(d){ return y(d); })
		.attr('stroke','#6e6e6e').attr('stroke-width',1.4);

	//vertical grid
	g.selectAll('line.vert').data(xTicks.slice(1)).enter().append('line')
		.attr('x1',function(d){ return x(d); }).attr('x2',function(d){ return x(d); })
		.attr('y1',y(70)).attr('y2',y(10))
		.attr('stroke','#3a3a3a').attr('stroke-width',1.2);

	//axes
	var xAxis = g.append('g')
		.attr('transform','translate(0,' + y(10) + ')')
		.call(d3.axisBottom(x).tickValues(xTicks).tickSize(4).tickSizeOuter(0).tickPadding(7));
	var yAxis = g.append('g')
		.attr('transform','translate(' + x(0) + ',0)')
		.call(d3.axisLeft(y).tickValues(yTicks).tickSize(4).tickSizeOuter(0).tickPadding(8));
	[xAxis,yAxis].forEach(function(a){
		a.select('.domain').attr('stroke','#000').attr('stroke-width',1.5);
		a.selectAll('.tick line').attr('stroke','#000');
		a.selectAll('.tick text').attr('fill','#000')
			.style('font-size','13px').style('font-family','"Liberation Sans",Arial,sans-serif');
	});

	//axis titles
	g.append('text')
		.attr('x',(x(0)+x(11))/2).attr('y',y(10)+43)
		.attr('text-anchor','middle')
		.style('font-size','16px').style('font-weight','bold')
		.text('Vitesse du vent standardisée (en m/s, à h=10m)');
	g.append('text')
		.attr('transform','translate(' + (x(0)-39) + ',' + ((y(10)+y(70))/2) + ') rotate(-90)')
		.attr('text-anchor','middle').attr('dy','0.35em')
		.style('font-size','16px').style('font-weight','bold')
		.text('Niveaux sonores en dB(A)');

	//legend
	var L = p.leg;
	g.append('rect')
		.attr('x',L[0]).attr('y',L[1]).attr('width',L[2]-L[0]).attr('height',L[3]-L[1])
		.attr('fill','#fff').attr('stroke','#333').attr('stroke-width',1);
	g.append('circle').attr('cx',L[4]).attr('cy',L[5]).attr('r',1.4).attr('fill','#000');
	g.append('circle').attr('cx',L[4]).attr('cy',L[6]).attr('r',4.2)
		.attr('fill','#ff0000').attr('stroke','#000').attr('stroke-width',0.7);
	g.append('text').attr('x',L[4]+6).attr('y',L[5]).attr('dy','0.35em')
		.style('font-size','12.5px').text(p.mes);
	g.append('text').attr('x',L[4]+6).attr('y',L[6]).attr('dy','0.35em')
		.style('font-size','12.5px').text(legendMed);

	//measured points
	g.selectAll('circle.pt').data(parsePts(p.pts)).enter().append('circle')
		.attr('class','pt')
		.attr('cx',function(d){ return x(d[0]); })
		.attr('cy',function(d){ return y(d[1]); })
		.attr('r',1.6)
		.attr('fill','#000');

	//medians
	g.selectAll('circle.med').data(medianSpeeds.map(function(s,i){ return [s,p.med[i]]; })).enter().append('circle')
		.attr('class','med')
		.attr('cx',function(d){ return x(d[0]); })
		.attr('cy',function(d){ return y(d[1]); })
		.attr('r',5.3)
		.attr('fill','#ff0000').attr('stroke','#000').attr('stroke-width',0.8);
});
</script>
</body>
</html>
